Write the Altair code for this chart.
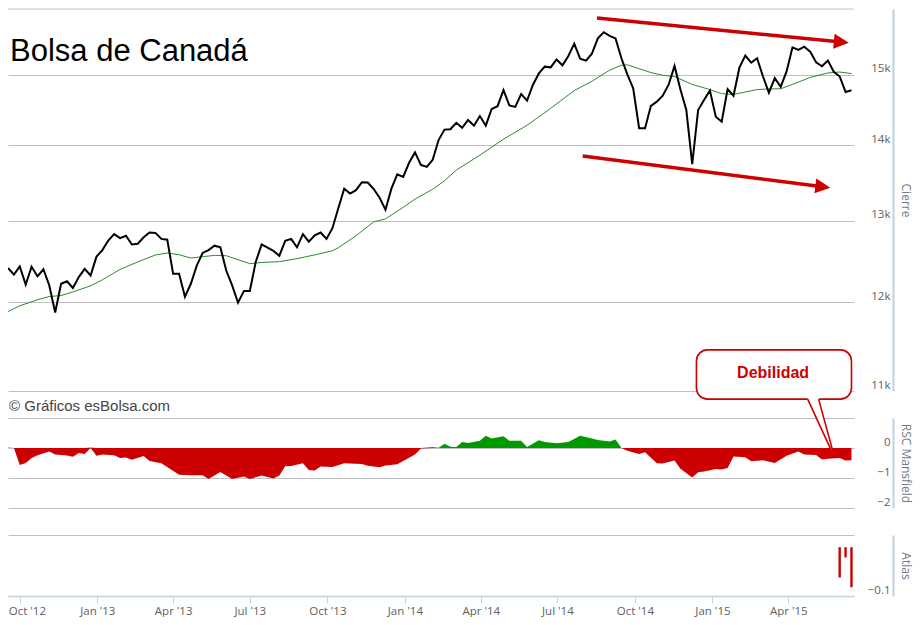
import altair as alt
import pandas as pd

# ---------------- data ----------------
first_week = "2012-09-17"

# weekly close (Cierre)
price = [12410, 12330, 12430, 12210, 12425, 12310, 12395, 12200, 11880, 12220,
         12250, 12170, 12300, 12400, 12320, 12550, 12630, 12750, 12830, 12780,
         12810, 12700, 12710, 12790, 12850, 12845, 12770, 12760, 12340, 12340,
         12065, 12220, 12440, 12595, 12630, 12685, 12665, 12380, 12200, 11995,
         12135, 12135, 12485, 12700, 12660, 12620, 12560, 12745, 12770, 12665,
         12830, 12735, 12815, 12850, 12770, 12905, 13160, 13415, 13350, 13395,
         13500, 13495, 13410, 13295, 13140, 13415, 13605, 13570, 13760, 13900,
         13730, 13705, 13800, 14070, 14215, 14220, 14310, 14240, 14350, 14270,
         14405, 14270, 14505, 14545, 14775, 14555, 14535, 14720, 14625, 14855,
         15020, 15120, 15110, 15225, 15140, 15280, 15465, 15240, 15210, 15315,
         15545, 15640, 15585, 15545, 15245, 15005, 14800, 14235, 14235, 14550,
         14610, 14695, 14855, 15130, 14785, 14490, 13740, 14490, 14635, 14770,
         14395, 14325, 14790, 14695, 15105, 15285, 15180, 15245, 14975, 14740,
         14950, 14825, 15050, 15410, 15370, 15420, 15345, 15185, 15125, 15210,
         15045, 14975, 14750, 14775]

# moving average (green line), read at these weeks
ma_week = [0, 2, 5, 7, 9, 11, 14, 16, 19, 21, 23, 25, 27, 29, 31, 33, 35, 37, 39, 41,
           43, 46, 49, 52, 55, 56, 59, 62, 64, 67, 69, 72, 74, 76, 80, 84, 88, 92, 96, 99,
           102, 104, 105, 107, 109, 111, 113, 116, 119, 121, 123, 127, 129, 131, 134, 136,
           139, 141, 143]
ma_val = [11892, 11959, 12030, 12068, 12080, 12122, 12195, 12268, 12393, 12455,
          12514, 12570, 12594, 12573, 12533, 12549, 12565, 12561, 12512, 12464,
          12478, 12488, 12525, 12571, 12622, 12659, 12810, 12985, 13023, 13172,
          13278, 13407, 13519, 13661, 13863, 14082, 14275, 14514, 14770, 14905,
          15068, 15143, 15147, 15090, 15033, 14993, 14974, 14859, 14784, 14725,
          14714, 14784, 14793, 14796, 14893, 14961, 15027, 15041, 15018]

# RSC Mansfield, read at these weeks
rsc_week = [0, 1, 2, 3, 4, 5, 7, 8, 10, 11, 12, 13, 14, 15, 16, 18, 19, 20, 21, 23,
            24, 26, 29, 31, 33, 34, 36, 38, 40, 41, 43, 45, 46, 47, 48, 50, 51, 52, 53, 55,
            57, 60, 61, 63, 64, 66, 67, 69, 70, 72, 73, 74, 75, 76, 77, 78, 80, 81, 82, 84,
            85, 87, 88, 90, 91, 93, 95, 97, 99, 100, 102, 103, 104, 105, 107, 108, 110, 111,
            113, 114, 116, 117, 118, 120, 121, 122, 123, 125, 126, 128, 130, 132, 134, 135,
            137, 138, 139, 141, 142, 143]
rsc_val = [0.02, 0.0, -0.57, -0.5, -0.33, -0.24, -0.12, -0.22, -0.25, -0.29,
           -0.17, -0.2, 0.02, -0.26, -0.22, -0.24, -0.33, -0.32, -0.39, -0.27,
           -0.43, -0.51, -0.89, -0.91, -0.91, -1.03, -0.8, -1.03, -0.95, -1.03,
           -0.92, -1.02, -0.92, -0.61, -0.6, -0.51, -0.73, -0.75, -0.62, -0.63,
           -0.51, -0.53, -0.59, -0.64, -0.58, -0.54, -0.43, -0.22, -0.02, 0.03,
           0.01, 0.14, 0.04, 0.03, 0.2, 0.17, 0.24, 0.41, 0.32, 0.39,
           0.24, 0.24, 0.03, 0.26, 0.2, 0.16, 0.2, 0.41, 0.32, 0.27,
           0.22, 0.28, 0.0, -0.09, -0.2, -0.14, -0.51, -0.52, -0.42, -0.69,
           -0.98, -0.81, -0.78, -0.7, -0.72, -0.67, -0.28, -0.31, -0.44, -0.41,
           -0.5, -0.26, -0.12, -0.22, -0.23, -0.38, -0.36, -0.33, -0.42, -0.41]

# Atlas bars
atlas_week = [141, 142, 143]
atlas_val = [-0.062, -0.021, -0.082]

# annotation arrows (in date / price units)
arrow_id = ["up", "up", "down", "down"]
arrow_date = ["2014-08-17", "2015-06-03", "2014-07-31", "2015-05-12"]
arrow_val = [15860, 15490, 13853, 13439]
head_date = ["2015-06-03", "2015-05-12"]
head_val = [15490, 13439]
head_angle = [5.6, 7.3]

# callout "Debilidad" (in date / RSC units)
box_date = ["2014-12-13"]
box_date2 = ["2015-06-15"]
box_top = [3.27]
box_bottom = [1.63]
tail_date = ["2015-04-24", "2015-05-07", "2015-05-26"]
tail_top = [1.70, 1.70, -0.32]
tail_bottom = [1.63, 0.84, -0.32]
tail_edge_id = ["a", "a", "b", "b"]
tail_edge_date = ["2015-04-24", "2015-05-26", "2015-05-07", "2015-05-26"]
tail_edge_val = [1.63, -0.32, 1.63, -0.32]
label_date = ["2015-03-14"]
label_val = [2.49]

x_ticks = [(2012, 10), (2013, 1), (2013, 4), (2013, 7), (2013, 10), (2014, 1),
           (2014, 4), (2014, 7), (2014, 10), (2015, 1), (2015, 4)]

# ---------------- tables ----------------
weeks = pd.date_range(first_week, periods=len(price), freq="7D").strftime("%Y-%m-%d").tolist()
price_df = pd.DataFrame({"date": weeks, "v": price})
ma_df = pd.DataFrame({"date": [weeks[i] for i in ma_week], "v": ma_val})
rsc_df = pd.DataFrame({"date": [weeks[i] for i in rsc_week], "rsc": rsc_val})
atlas_df = pd.DataFrame({"date": [weeks[i] for i in atlas_week], "a": atlas_val})
arrow_df = pd.DataFrame({"id": arrow_id, "date": arrow_date, "v": arrow_val})
head_df = pd.DataFrame({"date": head_date, "v": head_val, "ang": head_angle})
box_df = pd.DataFrame({"date": box_date, "date2": box_date2, "r": box_top, "r2": box_bottom})
tail_df = pd.DataFrame({"date": tail_date, "r": tail_top, "r2": tail_bottom})
edge_df = pd.DataFrame({"id": tail_edge_id, "date": tail_edge_date, "r": tail_edge_val})
label_df = pd.DataFrame({"date": label_date, "r": label_val, "t": ["Debilidad"]})
top_grid_df = pd.DataFrame({"v": [16000]})
one = pd.DataFrame({"k": [0]})

# ---------------- styling ----------------
W = 846
H1, H2, H3 = 382, 90, 61
FONT = "Open Sans"
RED = "#cc0000"
GRID = "#c0c0c0"
AXIS = "#c0d0e0"

xs = alt.Scale(type="utc", domain=[alt.DateTime(year=2012, month=9, date=17, utc=True),
                                   alt.DateTime(year=2015, month=6, date=18, utc=True)])


def yaxis(values, expr, title, h):
    return alt.Axis(orient="right", offset=39, values=values, labelExpr=expr,
                    title=title, titleX=12, titleY=h / 2, titleAngle=90,
                    titleAlign="center", titleBaseline="middle", titleFont=FONT,
                    titleFontSize=12, titleFontWeight="normal", titleColor="#707a8a",
                    labelAlign="right", labelBaseline="middle", labelOffset=-6,
                    labelPadding=-3, labelFont=FONT, labelFontSize=11.5,
                    labelColor="#606060", ticks=False, tickSize=0,
                    domainColor=AXIS, domainWidth=2, grid=True, gridColor=GRID,
                    gridWidth=1, labelFlush=False, labelOverlap=False)


ax_main = yaxis([11000, 12000, 13000, 14000, 15000],
                "format(datum.value / 1000, 'd') + 'k'", "Cierre", H1)
ax_rsc = yaxis([-2, -1, 0, 1], "datum.value > 0.5 ? '' : format(datum.value, 'd')",
               "RSC Mansfield", H2)
ax_atlas = yaxis([-0.1, 0.025], "datum.value > -0.05 ? '' : format(datum.value, '.1f')",
                 "Atlas", H3)

ys_main = alt.Scale(type="log", domain=[11000, 16000], nice=False)
ys_rsc = alt.Scale(domain=[-2, 1], nice=False, zero=False)
ys_atlas = alt.Scale(domain=[-0.1, 0.025], nice=False, zero=False)

X0 = alt.X("date:T", scale=xs, axis=None)
YM = alt.Y("v:Q", scale=ys_main, axis=ax_main)
YR = alt.Y("r:Q", scale=ys_rsc, axis=ax_rsc)

# ---------------- main panel ----------------
top_grid = alt.Chart(top_grid_df).mark_rule(color=GRID, strokeWidth=1).encode(y=YM)
ma_line = alt.Chart(ma_df).mark_line(color="#2b8a2b", strokeWidth=1).encode(x=X0, y=YM)
price_line = alt.Chart(price_df).mark_line(color="#000000", strokeWidth=2).encode(x=X0, y=YM)
arrows = alt.Chart(arrow_df).mark_line(color=RED, strokeWidth=3.5).encode(
    x=X0, y=YM, detail="id:N")
heads = alt.Chart(head_df).mark_point(shape="M-1,-1L1,0L-1,1Z", filled=True, color=RED,
                                      opacity=1, size=225).encode(
    x=X0, y=YM, angle=alt.Angle("ang:Q", scale=None))
title = alt.Chart(one).mark_text(text="Bolsa de Canadá", font="Liberation Sans", fontSize=31,
                                 align="left", baseline="alphabetic", color="#000000").encode(
    x=alt.value(2), y=alt.value(52))

main = alt.layer(top_grid, ma_line, price_line, arrows, heads, title).properties(
    width=W, height=H1)

# ---------------- RSC panel ----------------
rsc_neg = alt.Chart(rsc_df).transform_calculate(r="min(datum.rsc, 0)").mark_area(
    color=RED, opacity=1).encode(x=X0, y=YR, y2=alt.datum(0))
rsc_pos = alt.Chart(rsc_df).transform_calculate(r="max(datum.rsc, 0)").mark_area(
    color="#009900", opacity=1).encode(x=X0, y=YR, y2=alt.datum(0))
box = alt.Chart(box_df).mark_rect(fill="#ffffff", stroke=RED, strokeWidth=1.6,
                                  cornerRadius=11).encode(
    x=X0, x2="date2:T", y=YR, y2="r2:Q")
tail = alt.Chart(tail_df).mark_area(color="#ffffff", opacity=1).encode(x=X0, y=YR, y2="r2:Q")
edges = alt.Chart(edge_df).mark_line(color=RED, strokeWidth=1.6).encode(
    x=X0, y=YR, detail="id:N")
label = alt.Chart(label_df).mark_text(font="Liberation Sans", fontSize=16, fontWeight="bold",
                                      color=RED, align="center", baseline="middle").encode(
    x=X0, y=YR, text="t:N")
credit = alt.Chart(one).mark_text(text="© Gráficos esBolsa.com", font="Liberation Sans",
                                  fontSize=15, align="left", baseline="alphabetic",
                                  color="#444444").encode(x=alt.value(1), y=alt.value(-7))

rsc = alt.layer(rsc_neg, rsc_pos, box, tail, edges, label, credit).properties(width=W, height=H2)

# ---------------- Atlas panel ----------------
x_axis = alt.Axis(orient="bottom",
                  values=[alt.DateTime(year=y, month=m, date=1, utc=True) for y, m in x_ticks],
                  format="%b '%y", title=None, grid=False, labelFont=FONT, labelFontSize=11.5,
                  labelColor="#606060", tickColor=AXIS, tickSize=7, tickWidth=1,
                  domainColor=AXIS, domainWidth=1.5, labelPadding=2, labelFlush=False,
                  labelOverlap=False,
                  labelAlign={"condition": {"test": "datum.index == 0", "value": "left"},
                              "value": "center"},
                  labelOffset={"condition": {"test": "datum.index == 0", "value": -11.5},
                               "value": 0})
atlas = alt.Chart(atlas_df).mark_rule(color=RED, strokeWidth=2.4).encode(
    x=alt.X("date:T", scale=xs, axis=x_axis),
    y=alt.Y("a:Q", scale=ys_atlas, axis=ax_atlas),
    y2=alt.datum(0),
).properties(width=W, height=H3)

chart = alt.vconcat(main, rsc, atlas, spacing=27, bounds="flush").resolve_scale(
    x="independent", y="independent"
).properties(
    padding={"left": -4, "top": 0, "right": 2, "bottom": 0}, background="#ffffff"
).configure_view(stroke=None)

chart.save("out.html", embed_options={"renderer": "svg", "actions": False})
